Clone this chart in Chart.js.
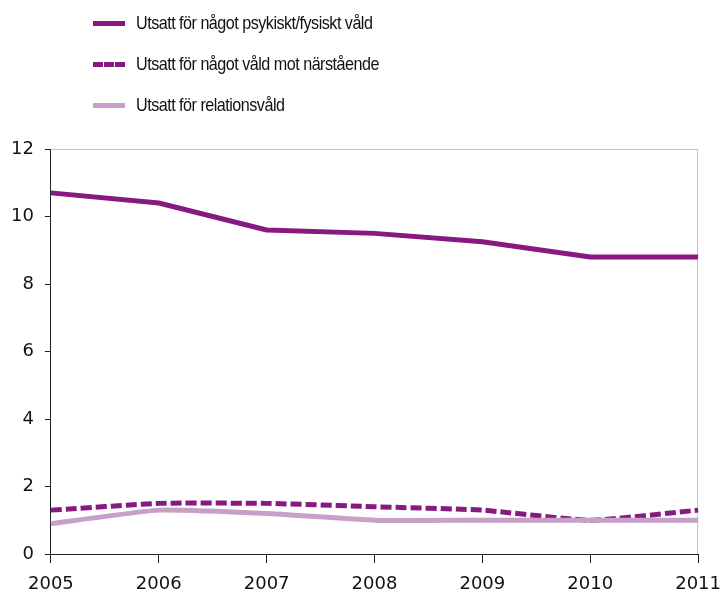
<!DOCTYPE html>
<html>
<head>
<meta charset="utf-8">
<script src="https://cdn.jsdelivr.net/npm/chart.js@4"></script>
<style>
  html, body { margin: 0; background: #fff; overflow: hidden; }
  #wrap { position: relative; width: 722px; height: 593px; overflow: hidden; }
  #chart { position: absolute; left: 0; top: 0; }
  #legend { position: absolute; left: 93px; top: 0; font-family: 'Liberation Sans', Arial, sans-serif; font-size: 19px; color: #111; }
  .item { position: absolute; left: 0; white-space: nowrap; height: 20px; line-height: 20px; }
  .swatch { position: absolute; left: 0; top: 8px; width: 32px; height: 0; }
  .label { position: absolute; left: 43px; top: 0; letter-spacing: -0.6px; transform: scaleX(0.85); transform-origin: left center; }
</style>
</head>
<body>
<div id="wrap">
  <canvas id="chart" width="733" height="605"></canvas>
  <div id="legend"></div>
</div>
<script>
// Chart data
const years = ['2005', '2006', '2007', '2008', '2009', '2010', '2011'];
const seriesNames = [
    'Utsatt för något psykiskt/fysiskt våld',
    'Utsatt för något våld mot närstående',
    'Utsatt för relationsvåld'
];
const psykisktFysiskt = [10.7, 10.4, 9.6, 9.5, 9.25, 8.8, 8.8];
const naerstaende = [1.3, 1.5, 1.5, 1.4, 1.3, 1.0, 1.3];
const relationsvald = [0.9, 1.3, 1.2, 1.0, 1.0, 1.0, 1.0];
const yTicks = [0, 2, 4, 6, 8, 10, 12];

const darkPurple = '#871a80';
const lightPurple = '#c7a0c8';

// Legend (HTML, stacked like the original)
const legendRows = [
    { name: seriesNames[0], color: darkPurple, dashed: false, top: 13 },
    { name: seriesNames[1], color: darkPurple, dashed: true, top: 54 },
    { name: seriesNames[2], color: lightPurple, dashed: false, top: 95 }
];
document.getElementById('legend').innerHTML = legendRows.map(row => `
    <div class="item" style="top:${row.top}px">
        <div class="swatch" style="border-top:5px ${row.dashed ? 'dashed' : 'solid'} ${row.color}"></div>
        <span class="label">${row.name}</span>
    </div>
`).join('');

// Grey frame on top and right of the plot area
const framePlugin = {
    id: 'frame',
    beforeDatasetsDraw(chart) {
        const { ctx, chartArea } = chart;
        ctx.save();
        ctx.strokeStyle = '#b9c6cf';
        ctx.lineWidth = 1;
        ctx.beginPath();
        ctx.moveTo(chartArea.left, chartArea.top + 0.5);
        ctx.lineTo(chartArea.right - 0.5, chartArea.top + 0.5);
        ctx.lineTo(chartArea.right - 0.5, chartArea.bottom);
        ctx.stroke();
        ctx.restore();
    }
};

const tickFont = { family: "'DejaVu Sans', sans-serif", size: 18, lineHeight: 1 };

new Chart(document.getElementById('chart'), {
    type: 'line',
    data: {
        labels: years,
        datasets: [
            {
                label: seriesNames[2],
                data: relationsvald,
                borderColor: lightPurple,
                borderWidth: 5,
                tension: 0.15,
                pointRadius: 0
            },
            {
                label: seriesNames[1],
                data: naerstaende,
                borderColor: darkPurple,
                borderWidth: 5,
                borderDash: [11, 4],
                tension: 0.15,
                pointRadius: 0
            },
            {
                label: seriesNames[0],
                data: psykisktFysiskt,
                borderColor: darkPurple,
                borderWidth: 5,
                tension: 0,
                pointRadius: 0,
                borderJoinStyle: 'round'
            }
        ]
    },
    options: {
        responsive: false,
        animation: false,
        layout: { padding: { top: 149, left: 0, right: 0, bottom: 0 } },
        plugins: {
            legend: { display: false },
            tooltip: { enabled: false }
        },
        scales: {
            x: {
                offset: false,
                grid: { drawOnChartArea: false, drawTicks: true, tickLength: 9, color: '#222' },
                border: { color: '#222', width: 1 },
                ticks: { color: '#111', font: tickFont, padding: 12, maxRotation: 0 }
            },
            y: {
                min: 0,
                max: 12,
                afterBuildTicks(axis) {
                    axis.ticks = yTicks.map(v => ({ value: v }));
                },
                grid: { drawOnChartArea: false, drawTicks: true, tickLength: 6, color: '#222' },
                border: { color: '#222', width: 1 },
                ticks: { color: '#111', font: tickFont, padding: 11 }
            }
        }
    },
    plugins: [framePlugin]
});
</script>
</body>
</html>
